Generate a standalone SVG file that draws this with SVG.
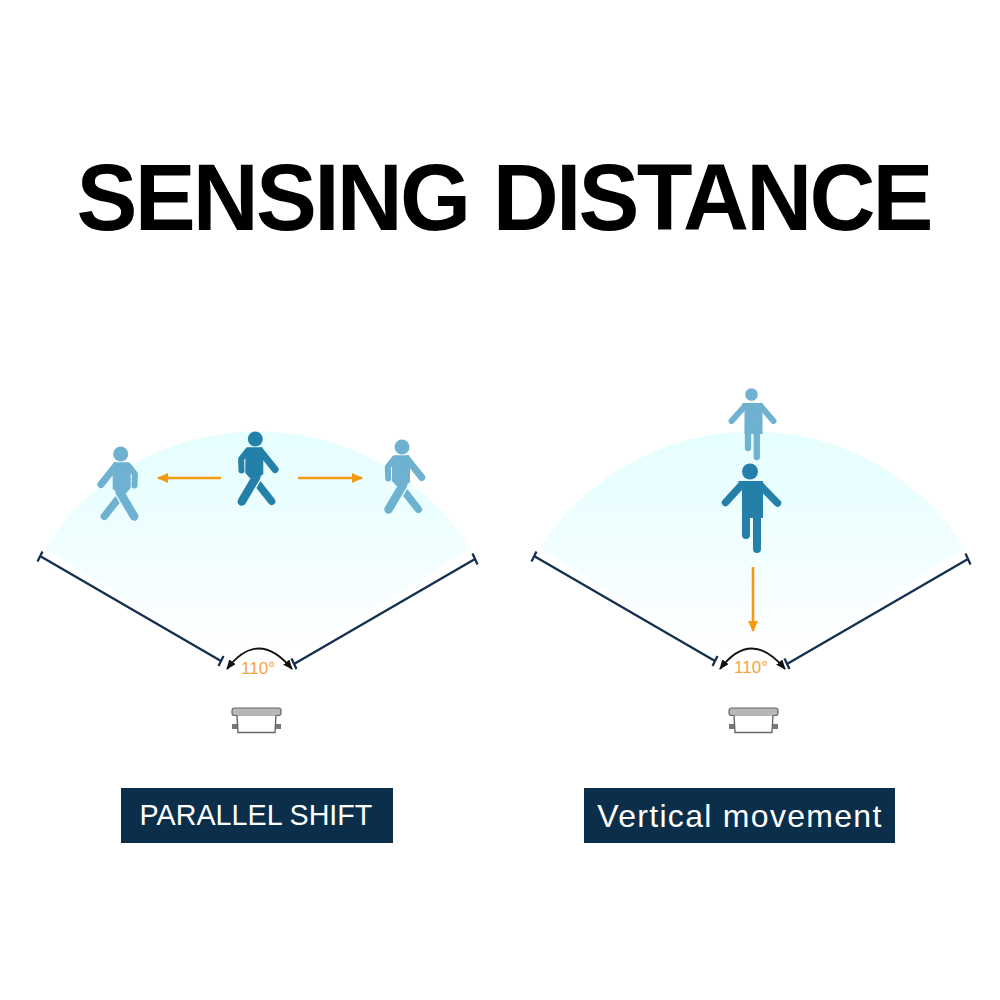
<svg xmlns="http://www.w3.org/2000/svg" xmlns:xlink="http://www.w3.org/1999/xlink" width="1000" height="1000" viewBox="0 0 1000 1000">
<style>
text{font-family:"Liberation Sans",Arial,sans-serif}
.title{font-size:95px;font-weight:700;fill:#000;letter-spacing:-2.900px;word-spacing:2px}
.lab{fill:#fff;font-size:28.700px}
.deg{fill:#f7a543;font-size:17px}
.dim{stroke:#12304d;stroke-width:2.300;fill:none}
.arc{stroke:#111;stroke-width:1.800;fill:none}
.or{stroke:#f59a0e;stroke-width:2.600;fill:none}
.bar{fill:#0b2e4a}
.l{fill:#6fb1d0;stroke:#6fb1d0}
.d{fill:#2480a8;stroke:#2480a8}
.lim{stroke-linecap:round;stroke-linejoin:round;fill:none!important}
.dev{fill:#fff;stroke:#666;stroke-width:1.400}
</style>
<defs>
<linearGradient id="fan" x1="0" y1="432" x2="0" y2="684" gradientUnits="userSpaceOnUse">
<stop offset="0" stop-color="#e6fefe"/><stop offset="0.3" stop-color="#ecfeff"/><stop offset="0.55" stop-color="#f4feff"/><stop offset="0.85" stop-color="#fff"/>
</linearGradient>
<marker id="ao" markerWidth="11" markerHeight="10" refX="10" refY="5" orient="auto-start-reverse" markerUnits="userSpaceOnUse"><path d="M0 0L11 5L0 10Z" fill="#f59a0e"/></marker>
<marker id="ak" markerWidth="10" markerHeight="8" refX="9" refY="4" orient="auto-start-reverse" markerUnits="userSpaceOnUse"><path d="M0 0L10 4L0 8Z" fill="#111"/></marker>
<g id="walker">
<circle cx="0" cy="7" r="7.500" stroke="none"/>
<path d="M-7.300 15.300H8.500L10 22V41L5.500 46L-3 46L-8 42L-8 28Z" stroke="none"/>
<path class="lim" stroke-width="7" d="M-5 19L-19.800 37.500"/>
<path class="lim" stroke-width="6" d="M8 19L14.200 27L13.800 38.500"/>
<path class="lim" stroke-width="8.500" d="M-1 45L13.500 69.500"/>
<path d="M-5.200 49L-1.100 55.900L-13.550 71.800A3.750 3.750 0 0 1 -19.450 67.200Z" stroke="none"/>
</g>
<g id="device">
<rect x="-25" y="8" width="49" height="7.500" rx="2.500" fill="#b8b8b8" stroke="#666" stroke-width="1.200"/>
<path class="dev" d="M-20 15.500L-19 32.500H18L19 15.500"/>
<rect x="-25" y="24" width="5" height="5" fill="#777"/><rect x="19" y="24" width="5" height="5" fill="#777"/>
</g>
</defs>
<rect width="1000" height="1000" fill="#fff"/>
<g id="title"><text class="title" transform="translate(76.500 230) scale(0.962 1)">SENSING DISTANCE</text></g>

<g id="fan-left"><path d="M257 684L45 548A252 252 0 0 1 470 548Z" fill="url(#fan)"/></g>
<g id="fan-right"><path d="M752 684L540 548A252 252 0 0 1 965 548Z" fill="url(#fan)"/></g>

<g id="connectors">
<path class="dim" d="M40 556L221 661M37.500 561.500L42.500 551.500M218.500 666L223.500 656"/>
<path class="dim" d="M475 559L294 664M472.500 553.500L477.500 564.500M291.500 658.500L296.500 669"/>
<path class="dim" d="M534 556L715 661M531.500 561.500L536.500 551.500M712.500 666L717.500 656"/>
<path class="dim" d="M968 559L787 664M965.500 553.500L970.500 564.500M784.500 658.500L789.500 669"/>
<path class="arc" d="M227 669Q258 628 292 669" marker-start="url(#ak)" marker-end="url(#ak)"/>
<path class="arc" d="M720 669Q751 628 785 669" marker-start="url(#ak)" marker-end="url(#ak)"/>
<path class="or" d="M221 478H158" marker-end="url(#ao)"/>
<path class="or" d="M298 478H362" marker-end="url(#ao)"/>
<path class="or" d="M753 567V631" marker-end="url(#ao)"/>
</g>

<g id="person-left"><use xlink:href="#walker" href="#walker" class="l" transform="translate(120.700 447)"/></g>
<g id="person-mid"><use xlink:href="#walker" href="#walker" class="d" transform="translate(255.300 432) scale(-1 1)"/></g>
<g id="person-right"><use xlink:href="#walker" href="#walker" class="l" transform="translate(402 440) scale(-1 1)"/></g>

<g id="person-top" class="l">
<circle cx="751.500" cy="394.500" r="6.300" stroke="none"/>
<path d="M742 403H762.500V434H744.500V408Z" stroke="none"/>
<path class="lim" stroke-width="6" d="M745 406L731.500 421M760.500 406L773.500 421"/>
<path class="lim" stroke-width="6.300" d="M748 428V448M756.800 428V457"/>
</g>
<g id="person-bottom" class="d">
<circle cx="750" cy="471.500" r="8" stroke="none"/>
<path d="M738 481H763V518H742V490Z" stroke="none"/>
<path class="lim" stroke-width="7.500" d="M741.500 485L725.500 502.500M760 485L777.500 503"/>
<path class="lim" stroke-width="8" d="M746 512V535M757 512V549"/>
</g>

<g id="label-110-left"><text class="deg" x="258" y="674" text-anchor="middle">110°</text></g>
<g id="label-110-right"><text class="deg" x="751" y="673" text-anchor="middle">110°</text></g>
<g id="device-left"><use xlink:href="#device" href="#device" transform="translate(257 700)"/></g>
<g id="device-right"><use xlink:href="#device" href="#device" transform="translate(754 700)"/></g>

<g id="label-left"><rect class="bar" x="121" y="788" width="272" height="55"/><text class="lab" x="256" y="825" text-anchor="middle">PARALLEL SHIFT</text></g>
<g id="label-right"><rect class="bar" x="584" y="788" width="311" height="55"/><text class="lab" x="740" y="827" text-anchor="middle" style="font-size:32px;letter-spacing:1.300px">Vertical movement</text></g>
</svg>
